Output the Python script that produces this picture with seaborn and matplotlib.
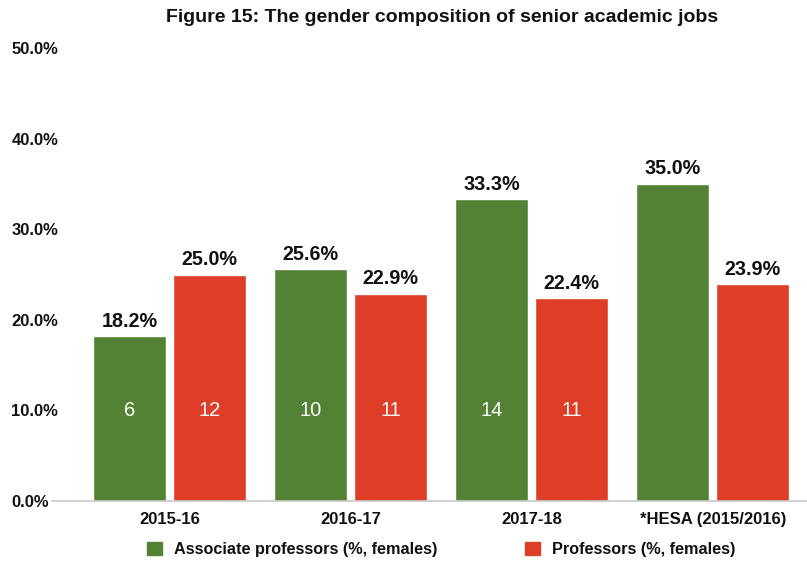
import matplotlib
matplotlib.use("Agg")
import matplotlib.pyplot as plt
import seaborn as sns
import pandas as pd

categories = ["2015-16", "2016-17", "2017-18", "*HESA (2015/2016)"]
series_names = ["Associate professors (%, females)", "Professors (%, females)"]
associate_pct = [18.2, 25.6, 33.3, 35.0]
professor_pct = [25.0, 22.9, 22.4, 23.9]
associate_n = [6, 10, 14, None]
professor_n = [12, 11, 11, None]
y_ticks = [0, 10, 20, 30, 40, 50]

GREEN = "#548235"
RED = "#DE3D27"
INK = "#111111"

sns.set_theme(style="white")
plt.rcParams["font.family"] = ["Liberation Sans", "DejaVu Sans"]
plt.rcParams.update({"text.color": INK, "xtick.color": INK,
                     "ytick.color": INK, "axes.labelcolor": INK})

df = pd.DataFrame({
    "category": categories * 2,
    "series": [series_names[0]] * 4 + [series_names[1]] * 4,
    "value": associate_pct + professor_pct,
})

fig = plt.figure(figsize=(8.07, 5.62), dpi=100)
ax = fig.add_axes([52 / 807, 61 / 562, 1 - 52 / 807, 453 / 562])

sns.barplot(data=df, x="category", y="value", hue="series",
            palette=[GREEN, RED], width=0.884, gap=0.088,
            saturation=1, ax=ax, legend=False)

ax.set_ylim(0, 50)
ax.set_xlim(-0.65, 3.52)
ax.set_yticks(y_ticks)
ax.set_yticklabels([f"{t:.1f}%" for t in y_ticks],
                   fontweight="bold", fontsize=12, color=INK)
ax.set_xticks(range(len(categories)))
ax.set_xticklabels(categories, fontweight="bold", fontsize=12, color=INK)
ax.tick_params(axis="y", length=0, pad=4)
ax.tick_params(axis="x", length=0, pad=8)
for lbl in ax.get_yticklabels():
    lbl.set_horizontalalignment("left")
    lbl.set_x(-35 / 755)
ax.set_xlabel("")
ax.set_ylabel("")
for side in ["top", "right", "left"]:
    ax.spines[side].set_visible(False)
ax.spines["bottom"].set_color("#c8c8c8")
ax.spines["bottom"].set_linewidth(1.2)

counts = [associate_n, professor_n]
for container, vals, ns in zip(ax.containers, [associate_pct, professor_pct], counts):
    ax.bar_label(container, labels=[f"{v:.1f}%" for v in vals], padding=4,
                 fontsize=14.2, fontweight="bold", color=INK)
    for bar, n in zip(container, ns):
        if n is not None:
            ax.text(bar.get_x() + bar.get_width() / 2, 10, str(n),
                    ha="center", va="center", color="white", fontsize=14.5)

fig.text(442.5 / 807, 1 - 17 / 562,
         "Figure 15: The gender composition of senior academic jobs",
         ha="center", va="center", fontweight="bold", fontsize=14, color=INK)

handles = [plt.Rectangle((0, 0), 1, 1, color=c) for c in [GREEN, RED]]
leg = fig.legend(handles, series_names, loc="center",
                 bbox_to_anchor=(441.5 / 807, 1 - 549.5 / 562), ncol=2,
                 frameon=False, handlelength=0.92, handleheight=0.92,
                 handletextpad=0.74, columnspacing=5.4,
                 prop={"weight": "bold", "size": 11.7})
for t in leg.get_texts():
    t.set_color(INK)

fig.savefig("out.png", dpi=100)
